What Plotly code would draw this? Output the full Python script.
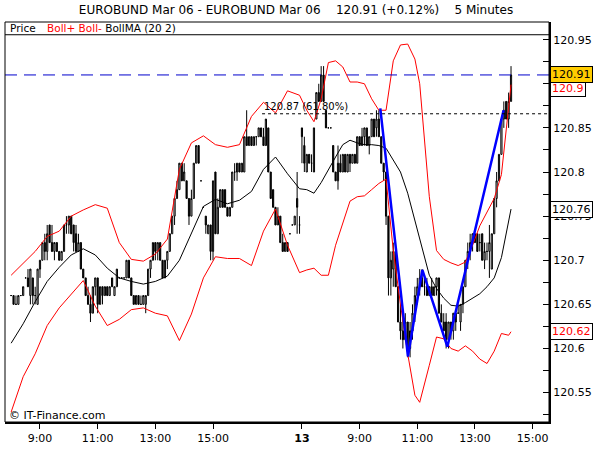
import plotly.graph_objects as go

# 5-minute candles, 12 Jan 08:00 .. 18:00 then 13 Jan 07:00 .. 14:10
opens = [
    120.66, 120.66, 120.65, 120.65, 120.66, 120.66, 120.68, 120.68, 120.66, 120.68,
    120.66, 120.65, 120.69, 120.70, 120.72, 120.71, 120.74, 120.72, 120.71, 120.72,
    120.71, 120.70, 120.71, 120.74, 120.74, 120.75, 120.74, 120.73, 120.71, 120.72,
    120.69, 120.68, 120.66, 120.65, 120.64, 120.67, 120.68, 120.65, 120.67, 120.66,
    120.67, 120.66, 120.68, 120.66, 120.67, 120.68, 120.68, 120.68, 120.68, 120.70,
    120.68, 120.66, 120.65, 120.66, 120.65, 120.65, 120.65, 120.66, 120.69, 120.70,
    120.72, 120.71, 120.72, 120.70, 120.68, 120.70, 120.71, 120.73, 120.75, 120.77,
    120.78, 120.81, 120.79, 120.79, 120.77, 120.75, 120.77, 120.81, 120.83, 120.79,
    120.76, 120.75, 120.73, 120.74, 120.71, 120.80, 120.73, 120.76, 120.78, 120.78,
    120.76, 120.75, 120.76, 120.80, 120.80, 120.81, 120.80, 120.80, 120.84, 120.83,
    120.84, 120.83, 120.84, 120.84, 120.85, 120.84, 120.83, 120.85, 120.80, 120.78,
    120.76, 120.74, 120.75, 120.72, 120.71, 120.72, 120.73, 120.74, 120.74, 120.77,
    120.74, 120.85, 120.83, 120.80, 120.82, 120.81, 120.80, 120.86, 120.89, 120.88,
    120.91, 120.87, 120.85, 120.85, 120.83, 120.80, 120.79, 120.81, 120.80, 120.82,
    120.80, 120.82, 120.81, 120.82, 120.81, 120.84, 120.83, 120.84, 120.85, 120.83,
    120.84, 120.86, 120.85, 120.86, 120.84, 120.81, 120.80, 120.75, 120.68, 120.69,
    120.71, 120.67, 120.63, 120.62, 120.61, 120.63, 120.60, 120.62, 120.64, 120.66,
    120.67, 120.68, 120.67, 120.67, 120.66, 120.67, 120.66, 120.67, 120.68, 120.64,
    120.63, 120.63, 120.61, 120.63, 120.62, 120.64, 120.64, 120.63, 120.65, 120.67,
    120.70, 120.71, 120.72, 120.73, 120.73, 120.72, 120.73, 120.70, 120.71, 120.71,
    120.69, 120.73, 120.77, 120.79, 120.82, 120.86, 120.88, 120.86, 120.88,
]
highs = [
    120.66, 120.66, 120.66, 120.66, 120.66, 120.67, 120.68, 120.69, 120.69, 120.68,
    120.67, 120.69, 120.70, 120.72, 120.73, 120.74, 120.74, 120.74, 120.72, 120.72,
    120.71, 120.71, 120.74, 120.75, 120.75, 120.75, 120.74, 120.74, 120.73, 120.72,
    120.69, 120.68, 120.67, 120.66, 120.67, 120.68, 120.68, 120.67, 120.67, 120.67,
    120.67, 120.67, 120.68, 120.67, 120.69, 120.68, 120.68, 120.68, 120.70, 120.70,
    120.68, 120.66, 120.66, 120.66, 120.66, 120.66, 120.66, 120.69, 120.70, 120.72,
    120.72, 120.72, 120.72, 120.70, 120.70, 120.71, 120.73, 120.75, 120.77, 120.79,
    120.81, 120.81, 120.81, 120.79, 120.77, 120.78, 120.81, 120.83, 120.83, 120.79,
    120.76, 120.75, 120.74, 120.74, 120.79, 120.80, 120.77, 120.78, 120.78, 120.78,
    120.76, 120.76, 120.80, 120.81, 120.81, 120.81, 120.81, 120.84, 120.87, 120.84,
    120.84, 120.84, 120.84, 120.85, 120.85, 120.85, 120.86, 120.85, 120.80, 120.78,
    120.76, 120.76, 120.75, 120.73, 120.72, 120.72, 120.73, 120.74, 120.75, 120.80,
    120.75, 120.85, 120.84, 120.82, 120.82, 120.82, 120.85, 120.89, 120.90, 120.92,
    120.92, 120.87, 120.85, 120.85, 120.83, 120.80, 120.83, 120.82, 120.82, 120.82,
    120.82, 120.82, 120.82, 120.82, 120.84, 120.84, 120.85, 120.85, 120.85, 120.84,
    120.86, 120.86, 120.87, 120.87, 120.84, 120.81, 120.80, 120.75, 120.71, 120.72,
    120.71, 120.67, 120.65, 120.64, 120.64, 120.63, 120.63, 120.65, 120.67, 120.68,
    120.69, 120.69, 120.68, 120.68, 120.67, 120.68, 120.67, 120.68, 120.68, 120.65,
    120.64, 120.64, 120.63, 120.63, 120.64, 120.64, 120.65, 120.65, 120.67, 120.70,
    120.72, 120.73, 120.73, 120.73, 120.73, 120.73, 120.73, 120.72, 120.72, 120.74,
    120.73, 120.77, 120.80, 120.82, 120.86, 120.88, 120.88, 120.89, 120.92,
]
lows = [
    120.66, 120.65, 120.65, 120.65, 120.66, 120.66, 120.68, 120.67, 120.65, 120.65,
    120.65, 120.65, 120.68, 120.70, 120.70, 120.70, 120.72, 120.71, 120.70, 120.71,
    120.70, 120.70, 120.71, 120.73, 120.73, 120.73, 120.71, 120.71, 120.71, 120.69,
    120.68, 120.66, 120.65, 120.63, 120.64, 120.66, 120.64, 120.65, 120.65, 120.66,
    120.66, 120.66, 120.67, 120.66, 120.67, 120.68, 120.68, 120.68, 120.68, 120.68,
    120.66, 120.65, 120.65, 120.65, 120.65, 120.65, 120.64, 120.66, 120.68, 120.70,
    120.70, 120.70, 120.70, 120.68, 120.68, 120.69, 120.71, 120.73, 120.74, 120.77,
    120.78, 120.79, 120.79, 120.77, 120.74, 120.75, 120.77, 120.81, 120.81, 120.79,
    120.76, 120.73, 120.73, 120.70, 120.70, 120.73, 120.73, 120.76, 120.76, 120.76,
    120.75, 120.75, 120.76, 120.79, 120.79, 120.80, 120.80, 120.80, 120.83, 120.83,
    120.83, 120.83, 120.83, 120.84, 120.84, 120.83, 120.83, 120.80, 120.77, 120.76,
    120.74, 120.74, 120.72, 120.71, 120.71, 120.71, 120.73, 120.74, 120.74, 120.73,
    120.73, 120.81, 120.80, 120.80, 120.81, 120.80, 120.80, 120.86, 120.88, 120.88,
    120.88, 120.85, 120.85, 120.85, 120.80, 120.79, 120.78, 120.80, 120.80, 120.80,
    120.80, 120.80, 120.81, 120.81, 120.81, 120.83, 120.83, 120.83, 120.83, 120.82,
    120.84, 120.84, 120.84, 120.84, 120.81, 120.79, 120.74, 120.66, 120.66, 120.67,
    120.67, 120.63, 120.61, 120.60, 120.61, 120.59, 120.59, 120.61, 120.63, 120.65,
    120.66, 120.67, 120.66, 120.66, 120.66, 120.66, 120.66, 120.66, 120.64, 120.63,
    120.62, 120.60, 120.60, 120.61, 120.61, 120.62, 120.64, 120.62, 120.64, 120.67,
    120.69, 120.70, 120.71, 120.72, 120.71, 120.71, 120.70, 120.69, 120.70, 120.68,
    120.69, 120.73, 120.76, 120.79, 120.82, 120.85, 120.86, 120.85, 120.88,
]
closes = [
    120.66, 120.65, 120.65, 120.66, 120.66, 120.67, 120.68, 120.67, 120.69, 120.66,
    120.66, 120.69, 120.70, 120.72, 120.71, 120.73, 120.72, 120.71, 120.72, 120.71,
    120.70, 120.71, 120.74, 120.74, 120.75, 120.73, 120.72, 120.71, 120.72, 120.69,
    120.68, 120.66, 120.65, 120.64, 120.67, 120.68, 120.65, 120.67, 120.66, 120.67,
    120.66, 120.67, 120.67, 120.67, 120.69, 120.68, 120.68, 120.68, 120.70, 120.68,
    120.66, 120.65, 120.66, 120.65, 120.65, 120.66, 120.66, 120.69, 120.70, 120.72,
    120.71, 120.72, 120.70, 120.68, 120.70, 120.71, 120.73, 120.75, 120.77, 120.78,
    120.81, 120.79, 120.80, 120.77, 120.75, 120.77, 120.81, 120.83, 120.81, 120.79,
    120.76, 120.74, 120.74, 120.71, 120.79, 120.73, 120.76, 120.78, 120.76, 120.76,
    120.75, 120.76, 120.80, 120.80, 120.81, 120.80, 120.81, 120.84, 120.83, 120.84,
    120.83, 120.84, 120.84, 120.85, 120.84, 120.83, 120.86, 120.80, 120.77, 120.76,
    120.74, 120.75, 120.72, 120.71, 120.72, 120.71, 120.73, 120.74, 120.75, 120.76,
    120.74, 120.84, 120.81, 120.82, 120.81, 120.81, 120.85, 120.89, 120.88, 120.91,
    120.88, 120.85, 120.85, 120.85, 120.80, 120.79, 120.81, 120.80, 120.82, 120.80,
    120.82, 120.81, 120.82, 120.81, 120.84, 120.83, 120.84, 120.85, 120.83, 120.84,
    120.86, 120.84, 120.86, 120.84, 120.81, 120.80, 120.75, 120.68, 120.70, 120.71,
    120.67, 120.63, 120.62, 120.61, 120.63, 120.60, 120.62, 120.64, 120.66, 120.67,
    120.68, 120.67, 120.67, 120.66, 120.67, 120.66, 120.67, 120.68, 120.64, 120.63,
    120.62, 120.61, 120.63, 120.62, 120.64, 120.63, 120.64, 120.65, 120.67, 120.70,
    120.71, 120.72, 120.73, 120.72, 120.71, 120.72, 120.70, 120.71, 120.71, 120.72,
    120.73, 120.77, 120.79, 120.82, 120.86, 120.87, 120.86, 120.88, 120.91,
]
candle_idx = list(range(len(opens)))

# Bollinger (20, 2) at these candle positions
band_idx = [
    0, 5, 10, 15, 20, 25, 30, 35, 40, 45, 50, 55, 60, 65, 70, 75, 80, 85, 90, 95,
    100, 105, 110, 115, 120, 123, 126, 129, 132, 135, 138, 141, 144, 147, 150, 153,
    156, 159, 162, 165, 168, 170, 174, 177, 180, 183, 186, 189, 192, 195, 198, 201,
    204, 207, 208,
]
boll_upper = [
    120.683, 120.697, 120.710, 120.727, 120.733, 120.750, 120.757, 120.763, 120.759, 120.720,
    120.701, 120.699, 120.707, 120.724, 120.803, 120.833, 120.841, 120.831, 120.828, 120.831,
    120.863, 120.879, 120.867, 120.892, 120.887, 120.870, 120.857, 120.883, 120.924, 120.926,
    120.919, 120.902, 120.902, 120.900, 120.883, 120.870, 120.870, 120.926, 120.944, 120.945,
    120.928, 120.900, 120.772, 120.711, 120.701, 120.697, 120.694, 120.698, 120.717, 120.739,
    120.755, 120.770, 120.797, 120.879, 120.899,
]
boll_ma = [
    120.606, 120.628, 120.653, 120.676, 120.692, 120.706, 120.713, 120.706, 120.691, 120.680,
    120.676, 120.673, 120.676, 120.682, 120.700, 120.731, 120.761, 120.769, 120.764, 120.768,
    120.778, 120.803, 120.817, 120.798, 120.781, 120.780, 120.776, 120.788, 120.803, 120.817,
    120.831, 120.836, 120.833, 120.831, 120.831, 120.830, 120.827, 120.814, 120.800, 120.776,
    120.744, 120.723, 120.683, 120.668, 120.657, 120.649, 120.648, 120.652, 120.657, 120.662,
    120.670, 120.680, 120.703, 120.744, 120.758,
]
boll_lower = [
    120.528, 120.568, 120.594, 120.626, 120.646, 120.662, 120.677, 120.648, 120.626, 120.633,
    120.644, 120.646, 120.640, 120.637, 120.609, 120.639, 120.680, 120.704, 120.702, 120.702,
    120.694, 120.733, 120.758, 120.717, 120.686, 120.689, 120.691, 120.683, 120.683, 120.717,
    120.742, 120.767, 120.772, 120.773, 120.780, 120.787, 120.792, 120.711, 120.650, 120.594,
    120.547, 120.539, 120.581, 120.613, 120.611, 120.600, 120.597, 120.603, 120.597, 120.588,
    120.583, 120.597, 120.617, 120.615, 120.619,
]

# zigzag drawing and fibonacci level
zz_idx = [153.6, 165.1, 171.1, 181.5, 204.9]
zz_price = [120.872, 120.591, 120.689, 120.602, 120.870]
fib_level = 120.866
fib_start = 104.4
fib_label = "120.87 (61.80%)"

tick_idx = [12, 36, 60, 84, 121, 145, 169, 193, 217]
tick_text = ["9:00", "11:00", "13:00", "15:00", "<b>13</b>", "9:00", "11:00", "13:00", "15:00"]

X_RANGE = [-2.56, 223.8]
Y_RANGE = [120.5167, 120.97]
FONT = "DejaVu Sans"

# plot area in pixels: x 5..549, y 22..430
def px_x(px):
    return (px - 5) / 544.0

def px_y(py):
    return (430 - py) / 408.0

fig = go.Figure()
fig.add_trace(go.Candlestick(
    x=candle_idx, open=opens, high=highs, low=lows, close=closes,
    increasing=dict(line=dict(color="black", width=1), fillcolor="white"),
    decreasing=dict(line=dict(color="black", width=1), fillcolor="black"),
    whiskerwidth=0, hoverinfo="skip", showlegend=False,
))
fig.add_trace(go.Scatter(x=band_idx, y=boll_upper, mode="lines",
                         line=dict(color="#ff0000", width=1), hoverinfo="skip", showlegend=False))
fig.add_trace(go.Scatter(x=band_idx, y=boll_lower, mode="lines",
                         line=dict(color="#ff0000", width=1), hoverinfo="skip", showlegend=False))
fig.add_trace(go.Scatter(x=band_idx, y=boll_ma, mode="lines",
                         line=dict(color="black", width=1), hoverinfo="skip", showlegend=False))
fig.add_trace(go.Scatter(x=zz_idx, y=zz_price, mode="lines",
                         line=dict(color="#0000ff", width=2.5), hoverinfo="skip", showlegend=False))

last_price = closes[-1]
shapes = [
    dict(type="line", xref="paper", yref="y", x0=0, x1=1, y0=last_price, y1=last_price,
         line=dict(color="#0000cc", width=1, dash="12px,7px")),
    dict(type="line", xref="x", yref="y", x0=fib_start, x1=X_RANGE[1], y0=fib_level, y1=fib_level,
         line=dict(color="black", width=1, dash="3px,3px")),
    dict(type="line", xref="paper", yref="paper", x0=0, x1=1, y0=px_y(35), y1=px_y(35),
         line=dict(color="black", width=1)),
    dict(type="rect", xref="paper", yref="paper", x0=0, x1=1, y0=0, y1=1,
         line=dict(color="black", width=1)),
]

def side_label(text, y, color, bg):
    return dict(xref="paper", yref="y", x=1, y=y, xanchor="left", yanchor="middle",
                text=text, showarrow=False, font=dict(family=FONT, size=11, color=color),
                bgcolor=bg, bordercolor="black", borderwidth=1, borderpad=1, xshift=1)

annotations = [
    dict(xref="paper", yref="paper", x=px_x(8), y=px_y(28.5), xanchor="left", yanchor="middle",
         text="Price", showarrow=False, font=dict(family=FONT, size=10.5, color="black")),
    dict(xref="paper", yref="paper", x=px_x(45), y=px_y(28.5), xanchor="left", yanchor="middle",
         text="<span style='color:#ff0000'>Boll+ Boll-</span> BollMA (20 2)", showarrow=False,
         font=dict(family=FONT, size=10.5, color="black")),
    dict(xref="paper", yref="paper", x=px_x(7), y=px_y(423), xanchor="left", yanchor="middle",
         text="© IT-Finance.com", showarrow=False, font=dict(family=FONT, size=11, color="black")),
    dict(xref="x", yref="y", x=fib_start, y=fib_level, xanchor="left", yanchor="bottom",
         text=fib_label, showarrow=False, font=dict(family=FONT, size=10, color="black")),
    side_label(f"{round(boll_upper[-1], 2):g}", boll_upper[-1] - 0.004, "#ff0000", "white"),
    side_label(f"{last_price:g}", last_price, "black", "#ffcc00"),
    side_label(f"{round(boll_ma[-1], 2):g}", boll_ma[-1], "black", "white"),
    side_label(f"{round(boll_lower[-1], 2):g}", boll_lower[-1], "#ff0000", "white"),
]

nb = "\u00a0"
title_text = ("EUROBUND Mar 06 - EUROBUND Mar 06" + nb * 4 + "120.91 (+0.12%)" + nb * 4 + "5 Minutes")

fig.update_layout(
    width=600, height=450,
    margin=dict(l=5, r=51, t=22, b=20, pad=0),
    paper_bgcolor="white", plot_bgcolor="white",
    font=dict(family=FONT, size=11, color="black"),
    title=dict(text=title_text, x=296 / 600, xref="container", xanchor="center",
               y=1 - 10 / 450, yref="container", yanchor="middle",
               font=dict(family=FONT, size=12, color="black")),
    showlegend=False,
    hovermode=False,
    shapes=shapes,
    annotations=annotations,
    xaxis=dict(range=X_RANGE, rangeslider=dict(visible=False), showgrid=False, zeroline=False,
               tickmode="array", tickvals=tick_idx, ticktext=tick_text,
               ticks="outside", ticklen=5, tickcolor="black", tickwidth=1,
               showline=True, linecolor="black", linewidth=2,
               tickfont=dict(family=FONT, size=11, color="black")),
    yaxis=dict(range=Y_RANGE, side="right", showgrid=False, zeroline=False,
               dtick=0.05, tick0=120.5, ticks="inside", ticklen=6, tickcolor="black",
               minor=dict(dtick=0.025, ticks="inside", ticklen=6, tickcolor="black"),
               showline=True, linecolor="black", linewidth=2,
               tickfont=dict(family=FONT, size=11, color="black")),
)

# the page's default body margin would push the 600x450 figure off the window
fig.write_html("out.html", config={"displayModeBar": False, "staticPlot": True},
               post_script="document.body.style.margin='0';")
